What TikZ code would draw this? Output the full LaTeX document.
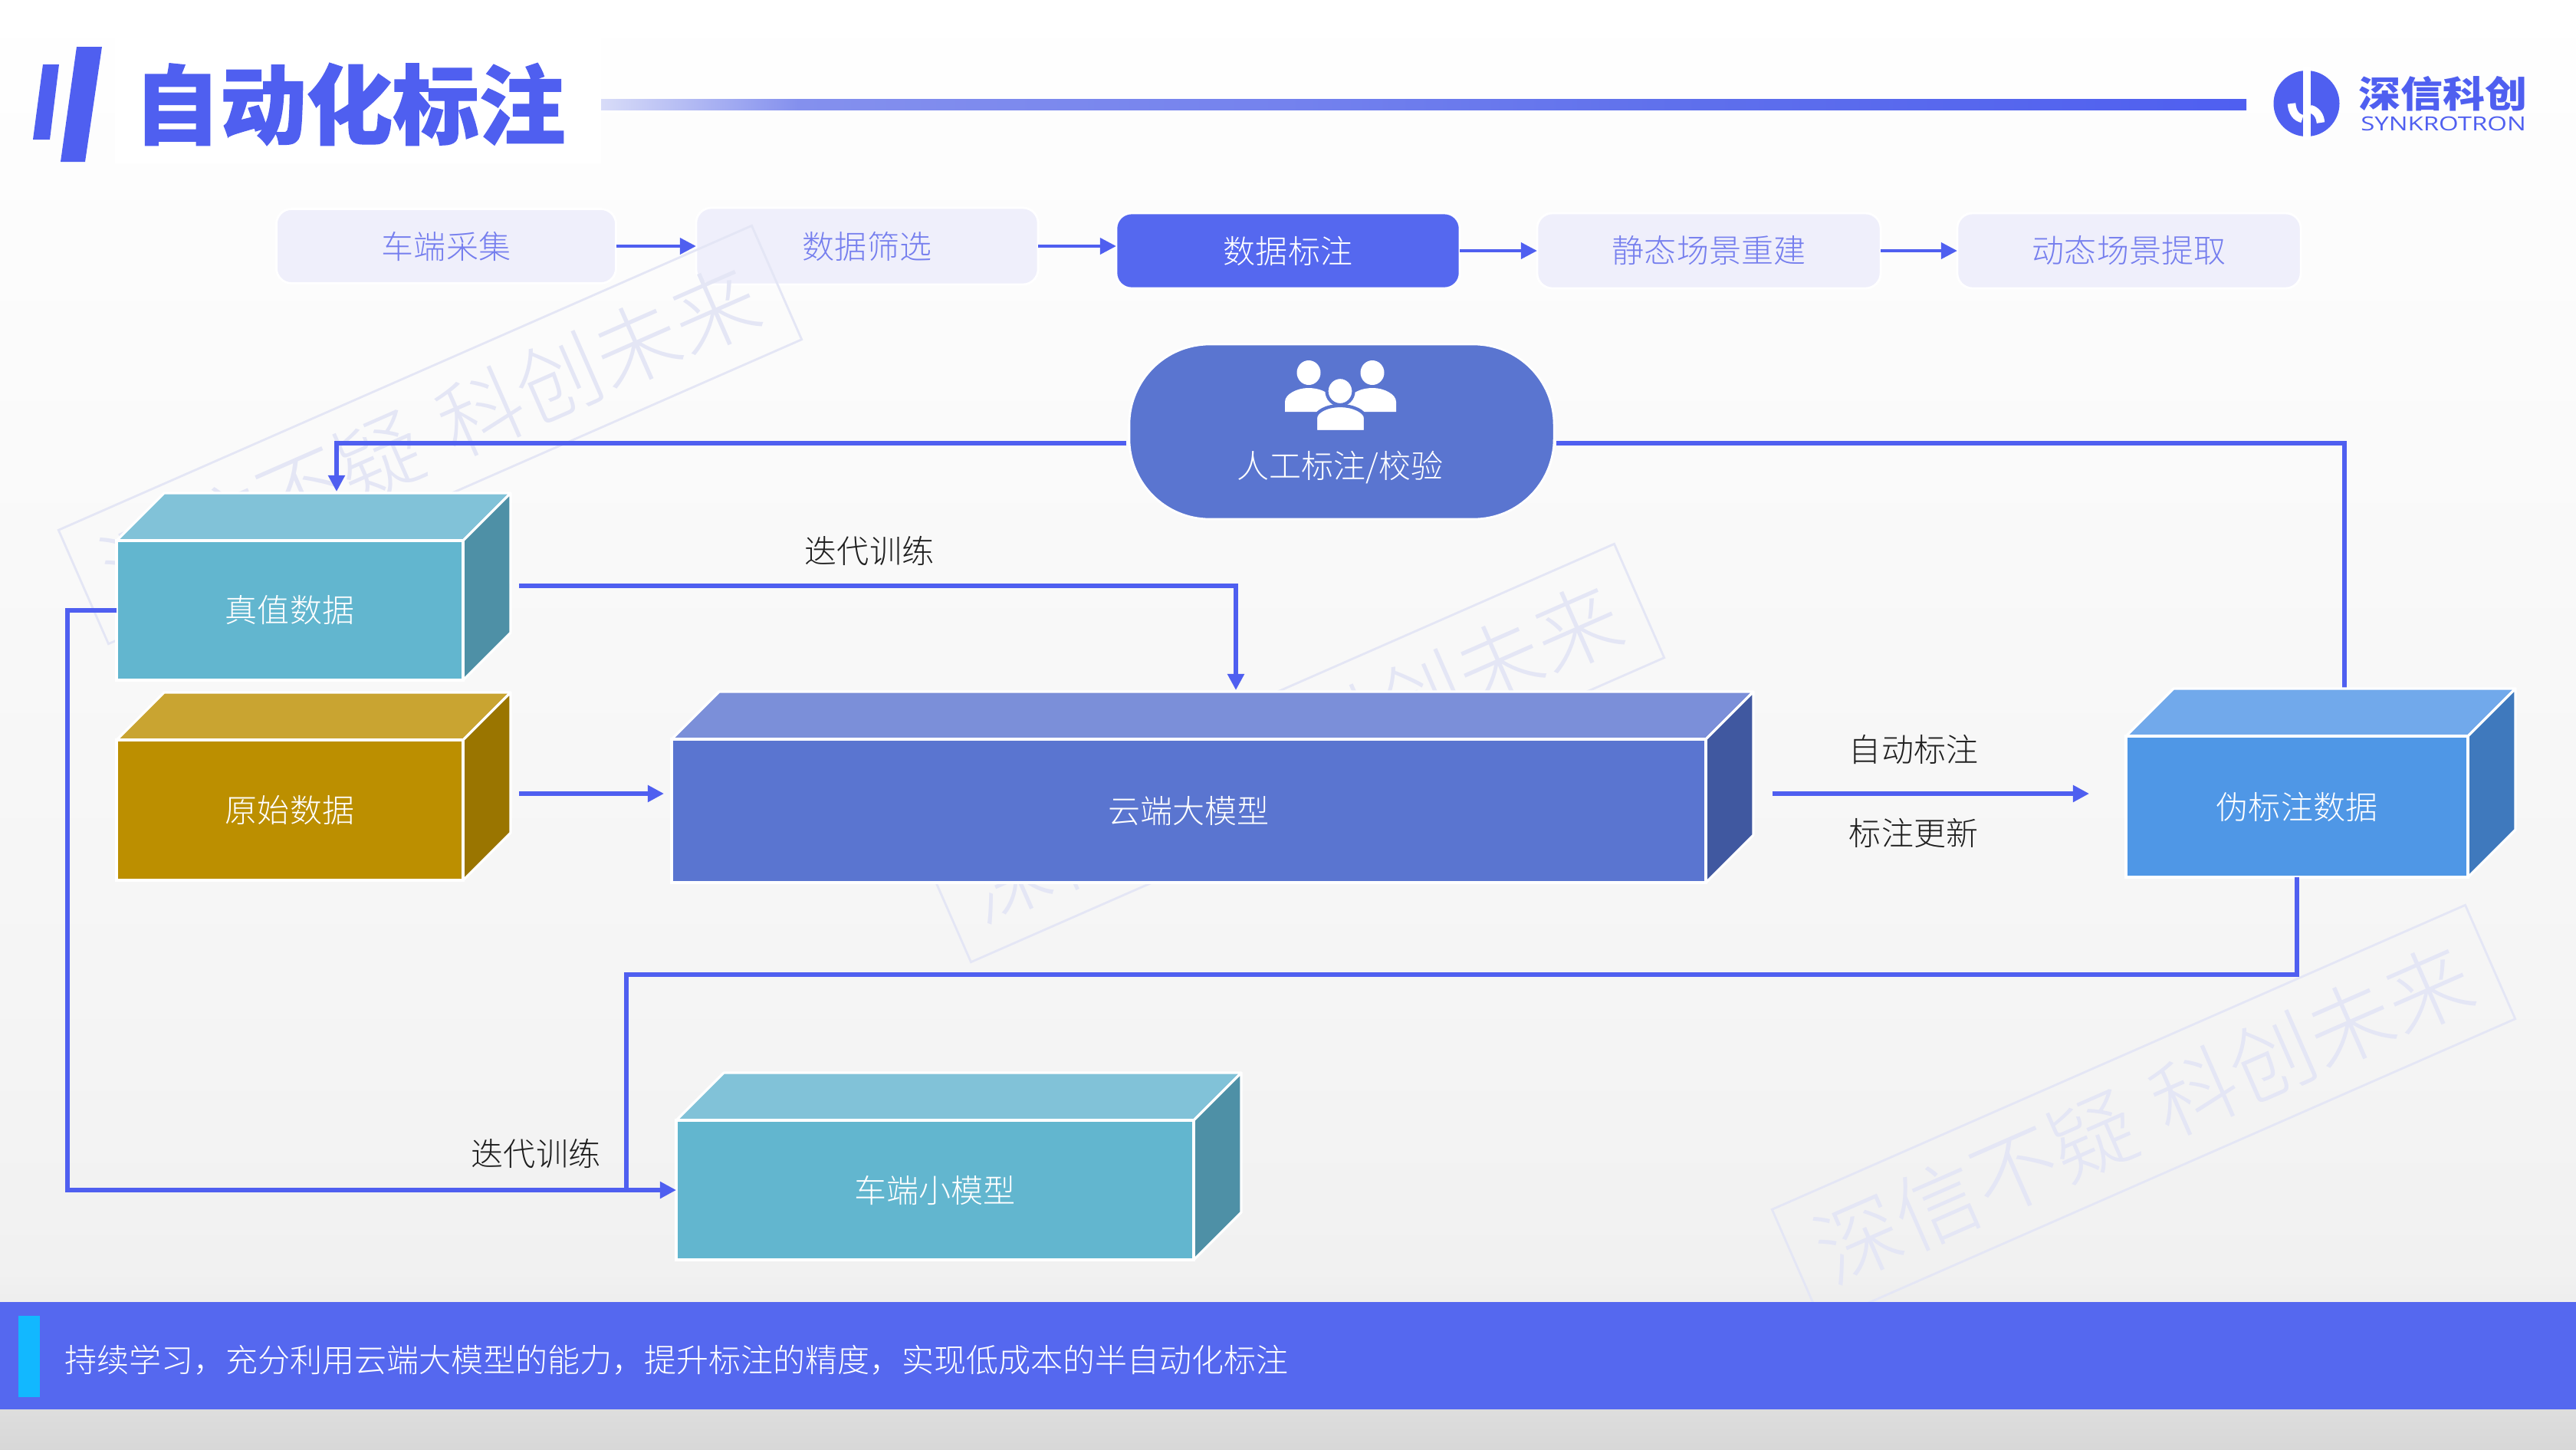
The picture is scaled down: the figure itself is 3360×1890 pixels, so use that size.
\documentclass[tikz,border=0pt]{standalone}
\usepackage{fontspec}
\usetikzlibrary{arrows.meta,calc}
\setmainfont{Noto Sans CJK SC Light}
\newfontfamily\titlef[FakeBold=1.2]{Noto Sans CJK SC Black}
\newfontfamily\logof{Noto Sans CJK SC Black}
\newfontfamily\latinf{Open Sans}
\definecolor{brand}{HTML}{4F5FF0}
\definecolor{barcol}{HTML}{5568EF}
\definecolor{wm}{HTML}{E4E6F5}
\definecolor{pale}{HTML}{EFEFFB}
\definecolor{paletext}{HTML}{757EEE}
\definecolor{humancol}{HTML}{5A75D0}
\definecolor{truthF}{HTML}{62B6CF}
\definecolor{truthT}{HTML}{81C2D8}
\definecolor{truthS}{HTML}{4E90A6}
\definecolor{origF}{HTML}{BC8F00}
\definecolor{origT}{HTML}{C9A431}
\definecolor{origS}{HTML}{9A7500}
\definecolor{cloudT}{HTML}{7B8FD9}
\definecolor{cloudS}{HTML}{4058A0}
\definecolor{pseudoF}{HTML}{4F97E6}
\definecolor{pseudoT}{HTML}{71A9EB}
\definecolor{pseudoS}{HTML}{3F79BD}
\definecolor{cyanbar}{HTML}{12B8FF}
\definecolor{bgA}{gray}{.845}\definecolor{bgB}{gray}{.867}\definecolor{bgC}{gray}{.93}\definecolor{bgD}{gray}{.945}
\definecolor{bgE}{gray}{.96}\definecolor{bgF}{gray}{.98}\definecolor{bgG}{gray}{.992}
\definecolor{grA}{HTML}{D8DCF8}\definecolor{grB}{HTML}{8490EE}\definecolor{grC}{HTML}{7482EE}\definecolor{grD}{HTML}{5F70EC}
\pgfdeclareverticalshading{pagebg}{100bp}{%
 color(0bp)=(bgA); color(25bp)=(bgA); color(26.3bp)=(bgB); color(30bp)=(bgC); color(31.1bp)=(bgD);
 color(40.6bp)=(bgE); color(59.1bp)=(bgF); color(69.7bp)=(bgG); color(75bp)=(white); color(100bp)=(white)}
\pgfdeclarehorizontalshading{rulegrad}{100bp}{%
 color(0bp)=(grA); color(25bp)=(grA); color(31bp)=(grB); color(45.8bp)=(grC); color(57.6bp)=(grD); color(75bp)=(brand); color(100bp)=(brand)}
\tikzset{
 x=0.01cm,y=-0.01cm,
 txt/.style={font=\fontsize{11.95pt}{14pt}\selectfont,inner sep=0,outer sep=0},
 flow/.style={draw=brand,line width=1.45pt,-{Triangle[length=6pt,width=6pt]}},
 pflow/.style={flow,line width=1.15pt},
 flowplain/.style={draw=brand,line width=1.45pt},
 pipe/.style={txt,rectangle,rounded corners=0.2cm,fill=pale,draw=white,line width=.8pt,text=paletext,minimum width=4.48cm,minimum height=0.98cm},
 pipeact/.style={pipe,fill=barcol,text=white},
 cubfront/.style={txt,rectangle,draw=white,line width=.9pt,text=white},
 cubface/.style={draw=white,line width=.9pt,line join=round},
 lab/.style={txt,text=black!88},
 wmbox/.style={rectangle,draw=wm,line width=.8pt,rotate=23.7,minimum width=9.87cm,minimum height=1.62cm,text=wm,font=\fontsize{31.6pt}{36pt}\selectfont,inner sep=0},
}
% name, x1,y1,x2,y2, front,top,side, text (depth 62)
\newcommand\Cub[9]{%
 \filldraw[fill=#7,cubface] (#2,#3) -- ({#2+62},{#3-62}) -- ({#4+62},{#3-62}) -- (#4,#3) -- cycle;
 \filldraw[fill=#8,cubface] (#4,#3) -- ({#4+62},{#3-62}) -- ({#4+62},{#5-62}) -- (#4,#5) -- cycle;
 \node[cubfront,fill=#6,minimum width={(#4-#2)*0.01cm},minimum height={(#5-#3)*0.01cm}] (#1) at ({(#2+#4)/2},{(#3+#5)/2}) {\raisebox{.5pt}{#9}};
}
\newcommand\Wmark[3]{\node[wmbox] (#1) at ({2796+#2},{1453+#3}) {深信不疑\hspace{.3em}科创未来};}
\begin{document}
\begin{tikzpicture}
\useasboundingbox (0,0) rectangle (3360,1890);
\shade[shading=pagebg] (0,0) rectangle (3360,1890);
\fill[white] (150,0) rectangle (784,213);
% header
\fill[brand] (56,84) -- (77,84) -- (65,182) -- (43,182) -- cycle;
\fill[brand] (100,61) -- (133,61) -- (111,211) -- (79,211) -- cycle;
\node[font=\titlef\fontsize{32pt}{36pt}\selectfont,text=brand,inner sep=0,outer sep=0] (title) at (456,136) {自动化标注};
\shade[shading=rulegrad] (784,129) rectangle (2930,143);
% logo
\fill[brand] (3008.5,135) circle [x radius=43,y radius=43];
\fill[white] (3003.5,88) rectangle (3013.5,182);
\draw[white,line width=3pt] (2989,135) .. controls (2990,147) and (2995,153) .. (3003,155);
\draw[white,line width=3pt] (3013,142) .. controls (3021,144) and (3026,150) .. (3027,160);
\node[font=\logof\fontsize{13.6pt}{16pt}\selectfont,text=brand,inner sep=0,outer sep=0,xscale=1.15] (logocn) at (3186,122) {深信科创};
\node[font=\latinf\fontsize{7.2pt}{9pt}\selectfont,text=brand,inner sep=0,outer sep=0,xscale=1.3] (logoen) at (3187,161) {SYNKROTRON};
% pipeline
\node[pipe,minimum width=4.43cm,minimum height=.97cm] (p1) at (582,321) {车端采集};
\node[pipe,minimum width=4.46cm,minimum height=1cm] (p2) at (1131,321) {数据筛选};
\node[pipeact] (p3) at (1680,327) {数据标注};
\node[pipe] (p4) at (2229,327) {静态场景重建};
\node[pipe] (p5) at (2777,327) {动态场景提取};
\draw[pflow] (p1.east) -- (p2.west);
\draw[pflow] (p2.east) -- (p3.west |- p2.east);
\draw[pflow] (p3.east) -- (p4.west);
\draw[pflow] (p4.east) -- (p5.west);
% watermarks
\Wmark{wma}{-2235}{-886}
\Wmark{wmb}{-1110}{-471}
\Wmark{wmc}{0}{0}
% connectors under shapes
\coordinate (hl) at (1469,578);
\coordinate (hr) at (2030,578);
\coordinate (tin) at (439,641);
\coordinate (pin) at (3058,900);
\coordinate (tout) at (677,764);
\coordinate (cin) at (1612,900);
\coordinate (oout) at (677,1035);
\coordinate (cout) at (866,1035);
\coordinate (arrA) at (2312,1035);
\coordinate (arrB) at (2725,1035);
\coordinate (leftrun) at (88,796);
\coordinate (midrun) at (817,1271);
\draw[flow] (hl) -| (tin);
\draw[flowplain] (hr) -| (pin);
% human
\node[txt,rectangle,draw=white,line width=.8pt,fill=humancol,rounded corners=1.05cm,minimum width=5.54cm,minimum height=2.28cm] (human) at (1750,563) {};
\node[txt,text=white] (humant) at (1748,610) {人工标注/校验};
\fill[white] (1707,486) ellipse [x radius=15.5,y radius=16];
\fill[white] (1790,486) ellipse [x radius=15.5,y radius=16];
\fill[white] (1676,537) -- (1676,524) .. controls (1676,514) and (1692,506) .. (1706,506) .. controls (1720,506) and (1730,510) .. (1740,520) -- (1740,537) -- cycle;
\fill[white] (1821,537) -- (1821,524) .. controls (1821,514) and (1805,506) .. (1791,506) .. controls (1777,506) and (1767,510) .. (1757,520) -- (1757,537) -- cycle;
\filldraw[white,draw=humancol,line width=1.2pt] (1748,510) ellipse [x radius=17.5,y radius=18];
\filldraw[fill=white,draw=humancol,line width=1.2pt] (1716,563) -- (1716,545) .. controls (1716,537) and (1730,529) .. (1748,529) .. controls (1766,529) and (1781,537) .. (1781,545) -- (1781,563) -- cycle;
% cuboids
\Cub{truth}{152}{705}{604}{887}{truthF}{truthT}{truthS}{真值数据}
\Cub{orig}{152}{965}{604}{1148}{origF}{origT}{origS}{原始数据}
\Cub{cloud}{876}{964}{2225}{1151}{humancol}{cloudT}{cloudS}{云端大模型}
\Cub{pseudo}{2773}{960}{3219}{1144}{pseudoF}{pseudoT}{pseudoS}{伪标注数据}
\Cub{car}{882}{1461}{1557}{1643}{truthF}{truthT}{truthS}{车端小模型}
% connectors
\draw[flow] (tout) -| (cin);
\draw[flow] (oout) -- (cout);
\draw[flow] (arrA) -- (arrB);
\draw[flowplain] (pseudo.south) |- (midrun) -- (midrun |- car.west);
\draw[flow] (truth.west) -- (leftrun) |- (car.west);
% labels
\node[lab] (l1) at (1134,718) {迭代训练};
\node[lab] (l2) at (699,1504) {迭代训练};
\node[lab] (l3) at (2496,977) {自动标注};
\node[lab] (l4) at (2496,1086) {标注更新};
% bottom bar
\fill[barcol] (0,1698) rectangle (3360,1838);
\fill[cyanbar] (24,1716) rectangle (52,1822);
\node[txt,text=white,anchor=west] (foot) at (84,1774) {持续学习，充分利用云端大模型的能力，提升标注的精度，实现低成本的半自动化标注};
\end{tikzpicture}
\end{document}
